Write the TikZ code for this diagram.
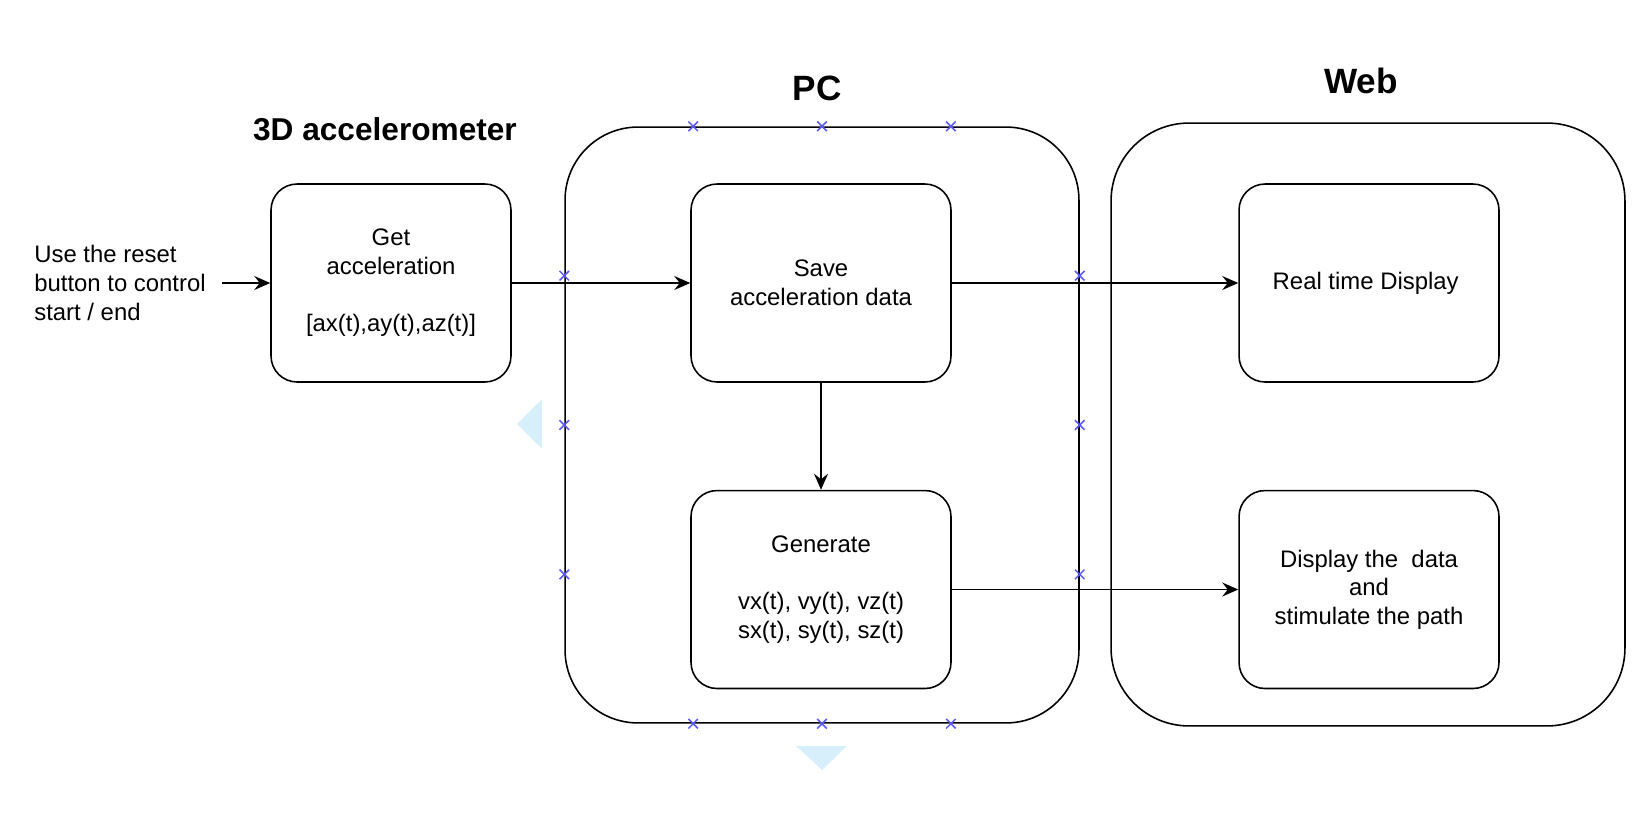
\documentclass[tikz,border=0pt]{standalone}
\usepackage{fontspec}
\setmainfont{Liberation Sans}
\usepackage{xcolor}
\usepackage{tikz}
\usetikzlibrary{
  arrows.meta,
  positioning,
  shapes.misc,
  calc
}
\definecolor{HandleBlue}{HTML}{5A5AFF}
\definecolor{HintBlue}{HTML}{D6EFFA}
\tikzset{
  stepbox/.style={
    draw,
    rounded corners=0.52cm,
    line width=0.9pt,
    align=center,
    minimum width=5.2cm,
    minimum height=3.96cm,
    font=\fontsize{13.6pt}{16.3pt}\selectfont
  },
  group/.style={
    draw,
    line width=0.9pt,
    minimum width=10.28cm
  },
  title/.style={
    inner sep=0pt,
    font=\bfseries\fontsize{20pt}{24pt}\selectfont
  },
  note/.style={
    align=left,
    anchor=west,
    inner sep=0pt,
    font=\fontsize{13.6pt}{16.3pt}\selectfont
  },
  flow/.style={
    -{Stealth[length=3.2mm,width=2.8mm,inset=1.1mm]},
    line width=0.9pt
  },
  handle/.style={
    cross out,
    draw=HandleBlue,
    line width=0.9pt,
    minimum size=0.16cm,
    inner sep=0pt
  },
  hint/.style={
    fill=HintBlue
  }
}

\begin{document}
\begin{tikzpicture}[x=0.02cm, y=-0.02cm]

  \useasboundingbox (0,0) rectangle (1646,818);

  % containers
  \node[
    group,
    minimum height=11.92cm,
    rounded corners=1.46cm
  ] (pc) at (822,425) {};

  \node[
    group,
    minimum height=12.06cm,
    rounded corners=1.56cm
  ] (web) at (1368,424.5) {};

  % titles
  \node[
    title,
    font=\bfseries\fontsize{18pt}{22pt}\selectfont
  ] (acctitle) at (385,129) {3D accelerometer};
  \node[title] (pctitle) at (817,88) {PC};
  \node[title] (webtitle) at (1361,81) {Web};

  % steps
  \node[note] (reset) at (34,283) {
    Use the reset\\
    button to control\\
    start / end
  };
  \coordinate (resetend) at (222,283);

  \node[
    stepbox,
    minimum width=4.8cm
  ] (get) at (391,283) {
    Get\\
    acceleration\\[16.3pt]
    {[ax(t),ay(t),az(t)]}
  };

  \node[stepbox] (save) at (821,283) {
    Save\\
    acceleration data
  };

  \node[
    stepbox,
    below=2.14cm of save
  ] (generate) {
    Generate\\[16.3pt]
    vx(t), vy(t), vz(t)\\
    sx(t), sy(t), sz(t)
  };

  \node[stepbox] (realtime) at (1369,283) {
    Real time Display
  };

  \node[
    stepbox,
    below=2.14cm of realtime
  ] (display) {
    Display the~ data\\
    and\\
    stimulate the path
  };

  % connections
  \draw[flow] (resetend) -- (get);
  \draw[flow] (get) -- (save);
  \draw[flow] (save) -- (realtime);
  \draw[flow] (save) -- (generate);
  \draw[flow] (generate) -- (display);

  % selection handles on the PC group
  \foreach \f/\n in {0.25/1,0.5/2,0.75/3} {
    \node[handle] (top\n) at ($(pc.north west)!\f!(pc.north east)$) {};
    \node[handle] (bottom\n) at ($(pc.south west)!\f!(pc.south east)$) {};
    \node[handle] (left\n) at ($(pc.north west)!\f!(pc.south west)$) {};
    \node[handle] (right\n) at ($(pc.north east)!\f!(pc.south east)$) {};
  }

  % hover hints
  \fill[hint] (517,424) -- (542,399) -- (542,449) -- cycle;
  \fill[hint] (796,746) -- (847,746) -- (822,770) -- cycle;

\end{tikzpicture}
\end{document}
